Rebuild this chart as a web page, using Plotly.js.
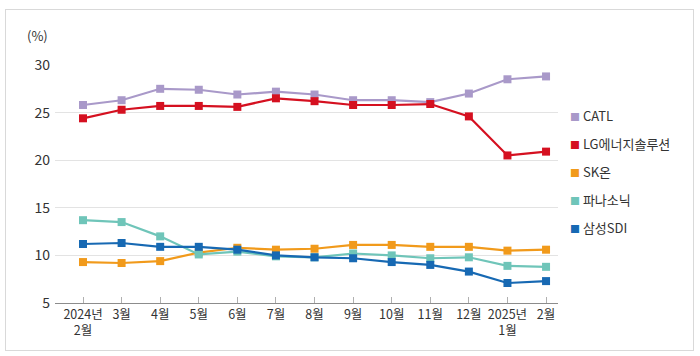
<!DOCTYPE html>
<html>
<head>
<meta charset="utf-8">
<script src="https://cdn.plot.ly/plotly-3.0.1.min.js"></script>
<style>
  html, body { margin: 0; padding: 0; background: #fff; }
  #wrap { position: relative; width: 700px; height: 356px; }
  #chart { width: 700px; height: 356px; }
  #frame { position: absolute; left: 5px; top: 9px; width: 687px; height: 340px;
           border: 1px solid #d9d9d9; pointer-events: none; }
</style>
</head>
<body>
<div id="wrap">
  <div id="chart"></div>
  <div id="frame"></div>
</div>
<script>
const categories = ["2024년<br>2월", "3월", "4월", "5월", "6월", "7월", "8월", "9월", "10월", "11월", "12월", "2025년<br>1월", "2월"];
const seriesNames = ["CATL", "LG에너지솔루션", "SK온", "파나소닉", "삼성SDI"];
const catl      = [25.8, 26.3, 27.5, 27.4, 26.9, 27.2, 26.9, 26.3, 26.3, 26.1, 27.0, 28.5, 28.8];
const lgEnergy  = [24.4, 25.3, 25.7, 25.7, 25.6, 26.5, 26.2, 25.8, 25.8, 25.9, 24.6, 20.5, 20.9];
const skOn      = [9.3, 9.2, 9.4, 10.3, 10.8, 10.6, 10.7, 11.1, 11.1, 10.9, 10.9, 10.5, 10.6];
const panasonic = [13.7, 13.5, 12.0, 10.1, 10.4, 9.9, 9.8, 10.2, 10.0, 9.7, 9.8, 8.9, 8.8];
const samsungSdi= [11.2, 11.3, 10.9, 10.9, 10.6, 10.0, 9.8, 9.7, 9.3, 9.0, 8.3, 7.1, 7.3];
const yTicks = [5, 10, 15, 20, 25, 30];

const seriesValues = [catl, lgEnergy, skOn, panasonic, samsungSdi];
const colors = ["#a999c9", "#d51020", "#f19a1b", "#6fc5b9", "#1769b3"];
const font = "'Noto Sans CJK KR', 'Noto Sans', sans-serif";

// draw order: bottom series first so top lines overlay as in reference
const order = [2, 3, 4, 0, 1];
const traces = order.map(i => ({
  type: "scatter",
  mode: "lines+markers",
  name: seriesNames[i],
  x: categories,
  y: seriesValues[i],
  line: { color: colors[i], width: 2.2 },
  marker: { symbol: "square", size: 8, color: colors[i] },
  showlegend: false,
  hoverinfo: "x+y"
}));

const legendY = [115, 143, 171, 199, 227];
const annotations = seriesNames.map((n, i) => ({
  xref: "paper", yref: "paper",
  x: (568 - 55) / (558 - 55),
  y: (303 - legendY[i]) / (303 - 65),
  xanchor: "left", yanchor: "middle",
  showarrow: false,
  text: '<span style="color:' + colors[i] + ';font-size:10px">■</span> ' + n,
  font: { family: font, size: 13, color: "#333" }
}));
annotations.push({
  xref: "paper", yref: "paper",
  x: (50 - 55) / (558 - 55), y: (303 - 35) / (303 - 65),
  xanchor: "right", yanchor: "middle", showarrow: false,
  text: "(%)",
  font: { family: font, size: 13, color: "#333" }
});

const layout = {
  width: 700, height: 356,
  margin: { l: 55, r: 142, t: 65, b: 53 },
  paper_bgcolor: "#fff", plot_bgcolor: "#fff",
  font: { family: font, size: 13, color: "#333" },
  showlegend: false,
  xaxis: {
    type: "category",
    range: [-0.726, 12.31],
    showgrid: false,
    showline: true, linecolor: "#8c8c8c", linewidth: 1,
    ticks: "inside", ticklen: 6, tickcolor: "#b0b0b0", tickwidth: 1,
    tickfont: { family: font, size: 12.5, color: "#333" },
    zeroline: false,
    fixedrange: true
  },
  yaxis: {
    range: [5, 30],
    tickvals: yTicks,
    ticktext: yTicks.map(String),
    showgrid: true, gridcolor: "#e3e3e3", gridwidth: 1,
    showline: false, zeroline: false,
    ticks: "", ticklabelstandoff: 4,
    tickfont: { family: font, size: 14, color: "#333" },
    fixedrange: true
  },
  annotations: annotations
};

Plotly.newPlot("chart", traces, layout, { displayModeBar: false, staticPlot: true });
</script>
</body>
</html>
